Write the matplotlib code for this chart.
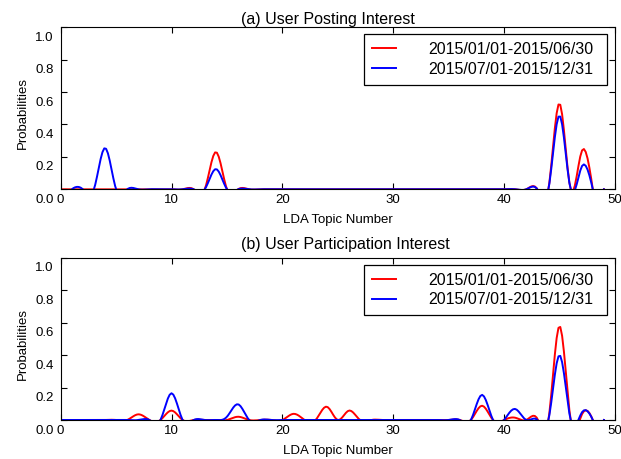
import numpy as np
import matplotlib
matplotlib.use("Agg")
import matplotlib.pyplot as plt
from matplotlib.transforms import ScaledTranslation

plt.rcParams['font.family'] = ['Liberation Sans', 'DejaVu Sans']

# ---- data (topic index 0..49) ----
topics = list(range(50))

posting_h1 = [0.0] * 50
posting_h1[14] = 0.23
posting_h1[45] = 0.53
posting_h1[47] = 0.235

posting_h2 = [0.0] * 50
posting_h2[4] = 0.255
posting_h2[14] = 0.125
posting_h2[45] = 0.455
posting_h2[47] = 0.14

particip_h1 = [0.0] * 50
particip_h1[7] = 0.035
particip_h1[10] = 0.058
particip_h1[16] = 0.02
particip_h1[21] = 0.038
particip_h1[24] = 0.082
particip_h1[26] = 0.058
particip_h1[38] = 0.088
particip_h1[41] = 0.014
particip_h1[43] = 0.008
particip_h1[45] = 0.58
particip_h1[47] = 0.032

particip_h2 = [0.0] * 50
particip_h2[10] = 0.165
particip_h2[15] = 0.02
particip_h2[16] = 0.097
particip_h2[38] = 0.155
particip_h2[41] = 0.068
particip_h2[45] = 0.40
particip_h2[47] = 0.045

labels = ["2015/01/01-2015/06/30", "2015/07/01-2015/12/31"]
titles = ["(a) User Posting Interest", "(b) User Participation Interest"]
xlabel = "LDA Topic Number"
ylabel = "Probabilities"


def smooth(x, y, n=300):
    """'Smoothest' cubic spline through the points (drawing only):
    interpolating C2 cubic minimising squared jumps of the 3rd derivative."""
    x = np.asarray(x, float)
    y = np.asarray(y, float)
    N = len(x)
    C = np.zeros((N - 2, N))
    D = np.zeros((N - 2, N))
    r = np.zeros(N - 2)
    for i in range(1, N - 1):
        C[i - 1, i - 1:i + 2] = [1, 4, 1]
        D[i - 1, i - 1:i + 2] = [1, -2, 1]
        r[i - 1] = 6 * (y[i + 1] - 2 * y[i] + y[i - 1])
    K = np.zeros((2 * N - 2, 2 * N - 2))
    K[:N, :N] = 2 * D.T @ D
    K[:N, N:] = C.T
    K[N:, :N] = C
    rhs = np.concatenate([np.zeros(N), r])
    M = np.linalg.lstsq(K, rhs, rcond=None)[0][:N]
    xs = np.linspace(x[0], x[-1], n)
    idx = np.clip(np.searchsorted(x, xs) - 1, 0, N - 2)
    x0, x1 = x[idx], x[idx + 1]
    hh = x1 - x0
    t0 = x1 - xs
    t1 = xs - x0
    ys = (M[idx] * t0 ** 3 / (6 * hh) + M[idx + 1] * t1 ** 3 / (6 * hh)
          + (y[idx] / hh - M[idx] * hh / 6) * t0
          + (y[idx + 1] / hh - M[idx + 1] * hh / 6) * t1)
    return xs, ys


fig = plt.figure(figsize=(6.21, 4.59), dpi=100)
ax_a = fig.add_axes([0.0977, 0.5876, 0.8926, 0.353])
ax_b = fig.add_axes([0.0977, 0.085, 0.8926, 0.353])

offset = ScaledTranslation(0, -6.5 / 72, fig.dpi_scale_trans)

for ax, s1, s2, title, tpad in [(ax_a, posting_h1, posting_h2, titles[0], 2.0),
                                (ax_b, particip_h1, particip_h2, titles[1], 6.5)]:
    xs, ys = smooth(topics, s1)
    ax.plot(xs, ys, color='red', lw=1.4, label=labels[0])
    xs, ys = smooth(topics, s2)
    ax.plot(xs, ys, color='blue', lw=1.4, label=labels[1])
    ax.set_xlim(0, 50)
    ax.set_ylim(0, 1.0)
    ax.set_xticks([0, 10, 20, 30, 40, 50])
    ax.set_yticks([0.0, 0.2, 0.4, 0.6, 0.8, 1.0])
    ax.set_yticklabels(["0.0", "0.2", "0.4", "0.6", "0.8", "1.0"])
    ax.tick_params(direction='in', top=True, right=True, length=4,
                   labelsize=9.5, width=0.8)
    ax.tick_params(axis='y', pad=5)
    for t in ax.yaxis.get_major_ticks():
        t.label1.set_transform(t.label1.get_transform() + offset)
    ax.set_title(title, fontsize=11.5, pad=tpad, x=0.325, ha='left')
    ax.set_xlabel(xlabel, fontsize=9.5, labelpad=6)
    ax.set_ylabel(ylabel, fontsize=9.5)
    ax.yaxis.set_label_coords(-0.057, 0.47)
    leg = ax.legend(loc='upper right', bbox_to_anchor=(0.547, 0, 0.4386, 0.9587),
                    mode='expand', fontsize=11.5, fancybox=False,
                    edgecolor='black', framealpha=1, borderpad=0.5,
                    handlelength=1.5, handletextpad=2.0, labelspacing=0.3,
                    borderaxespad=0)
    leg.get_frame().set_linewidth(0.9)

fig.savefig("out.png", dpi=100)
